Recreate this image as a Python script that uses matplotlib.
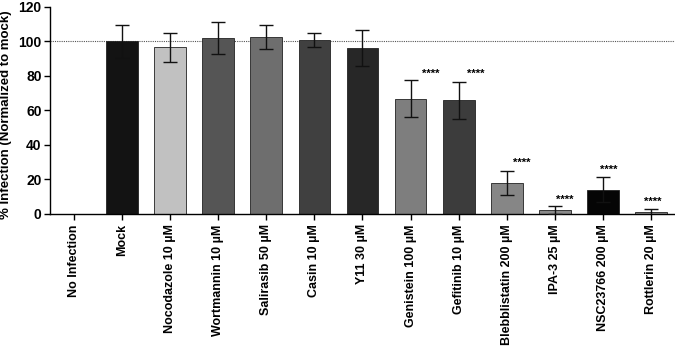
import matplotlib
matplotlib.use("Agg")
import matplotlib.pyplot as plt
import numpy as np

plt.rcParams['font.family'] = ['Liberation Sans', 'DejaVu Sans']
plt.rcParams['font.weight'] = 'bold'

categories = ["No Infection", "Mock", "Nocodazole 10 µM", "Wortmannin 10 µM",
              "Salirasib 50 µM", "Casin 10 µM", "Y11 30 µM", "Genistein 100 µM",
              "Gefitinib 10 µM", "Blebblistatin 200 µM", "IPA-3 25 µM",
              "NSC23766 200 µM", "Rottlerin 20 µM"]
values = [0, 100, 96.5, 102, 102.8, 101, 96.2, 66.8, 65.8, 18, 2, 14, 0.8]
errors = [0, 9.5, 8.3, 9.4, 7.0, 4.0, 10.3, 10.8, 10.8, 7.0, 2.3, 7.1, 1.9]
colors = ["#ffffff", "#131313", "#c1c1c1", "#555555", "#6e6e6e", "#404040",
          "#272727", "#7e7e7e", "#3c3c3c", "#868686", "#8a8a8a", "#050505", "#8a8a8a"]
significance = ["", "", "", "", "", "", "", "****", "****", "****", "****", "****", "****"]
yticks = [0, 20, 40, 60, 80, 100, 120]

# annotation placement (x offset in bar units, y in data units)
star_dx = [0, 0, 0, 0, 0, 0, 0, 0.42, 0.36, 0.31, 0.21, 0.13, 0.04]
star_y = [0, 0, 0, 0, 0, 0, 0, 81.3, 81.3, 29.7, 8.1, 25.6, 7.0]

fig = plt.figure(figsize=(6.75, 3.46), dpi=100)
ax = fig.add_axes([0.074, 0.382, 0.926, 0.598])

x = np.arange(len(categories))
for i in range(len(categories)):
    if values[i] == 0 and errors[i] == 0:
        continue
    ax.bar(x[i], values[i], width=0.66, color=colors[i], edgecolor="#222222", linewidth=0.6, zorder=2)
    ax.errorbar(x[i], values[i], yerr=errors[i], fmt='none', ecolor="#111111",
                elinewidth=1.0, capsize=5, capthick=1.0, zorder=3)
    if significance[i]:
        ax.text(x[i] + star_dx[i], star_y[i], significance[i], ha='center', va='center',
                fontsize=8, fontweight='bold', zorder=4)

ax.axhline(100, color="#555555", linestyle=(0, (1, 1)), linewidth=0.8, zorder=1)

ax.set_xlim(-0.5, 12.5)
ax.set_ylim(0, 120)
ax.set_yticks(yticks)
ax.set_xticks(x)
ax.set_xticklabels(categories, rotation=90, fontsize=9, fontweight='bold')
ax.tick_params(axis='y', labelsize=10, width=1.0, length=4, pad=2)
ax.tick_params(axis='x', width=1.0, length=4)
for lab in ax.get_yticklabels():
    lab.set_fontweight('bold')
ax.set_ylabel("% Infection (Normalized to mock)", fontsize=9.5, fontweight='bold', labelpad=2)
ax.yaxis.set_label_coords(-0.06, 0.48)
ax.spines['top'].set_visible(False)
ax.spines['right'].set_visible(False)
ax.spines['left'].set_linewidth(1.0)
ax.spines['bottom'].set_linewidth(1.0)

fig.savefig("out.png", dpi=100)
